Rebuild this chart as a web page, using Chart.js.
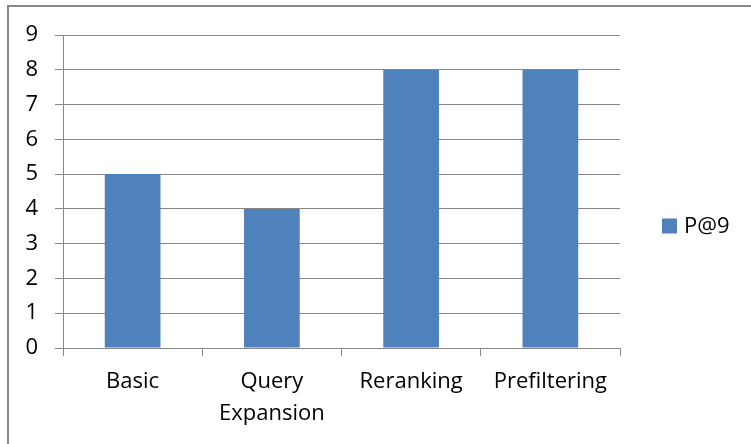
<!DOCTYPE html>
<html>
<head>
<meta charset="utf-8">
<script src="https://cdn.jsdelivr.net/npm/chart.js@4/dist/chart.umd.min.js"></script>
<style>
  html, body { margin: 0; padding: 0; background: #ffffff; }
  #wrap { position: relative; width: 751px; height: 444px; overflow: hidden; }
  #frame { position: absolute; left: 7px; top: 5px; right: -10px; bottom: -10px;
           border-left: 2px solid #878787; border-top: 2px solid #878787; pointer-events: none; }
  canvas { position: absolute; left: 0; top: 0; }
</style>
</head>
<body>
<div id="wrap">
  <canvas id="c" width="751" height="444"></canvas>
  <div id="frame"></div>
</div>
<script>
const categories = ["Basic", ["Query", "Expansion"], "Reranking", "Prefiltering"];
const seriesName = "P@9";
const seriesValues = [5, 4, 8, 8];
const yTicks = [0, 1, 2, 3, 4, 5, 6, 7, 8, 9];

const FONT = "'Open Sans', 'Noto Sans', sans-serif";
const GRID = "#878787";
const BAR = "#4F81BD";

const sideLegend = {
  id: "sideLegend",
  afterDraw(chart) {
    const ctx = chart.ctx;
    const ds = chart.data.datasets[0];
    const area = chart.chartArea;
    const x = area.right + 42;
    const yc = chart.height / 2 + 4;
    ctx.save();
    ctx.fillStyle = ds.backgroundColor;
    ctx.fillRect(x, yc - 7.5, 15, 15);
    ctx.fillStyle = "#000000";
    ctx.font = "22px " + FONT;
    ctx.textBaseline = "middle";
    ctx.textAlign = "left";
    ctx.fillText(ds.label, x + 22, yc + 1);
    ctx.restore();
  }
};

new Chart(document.getElementById("c"), {
  type: "bar",
  data: {
    labels: categories,
    datasets: [{
      label: seriesName,
      data: seriesValues,
      backgroundColor: BAR,
      borderWidth: 0,
      barPercentage: 0.4,
      categoryPercentage: 1.0
    }]
  },
  options: {
    responsive: false,
    animation: false,
    devicePixelRatio: 1,
    layout: { padding: { left: 0, top: 35, right: 131, bottom: 0 } },
    plugins: {
      legend: { display: false },
      tooltip: { enabled: false }
    },
    scales: {
      x: {
        offset: true,
        grid: { offset: true, drawOnChartArea: false, drawTicks: true, tickLength: 8, color: GRID, lineWidth: 1 },
        border: { display: true, color: GRID, width: 1 },
        ticks: { color: "#000000", font: { family: FONT, size: 22, lineHeight: 1.45 }, padding: 10, maxRotation: 0, autoSkip: false },
        afterFit(s) { s.height = 96; }
      },
      y: {
        min: 0, max: 9,
        afterBuildTicks(s) { s.ticks = yTicks.map(v => ({ value: v })); },
        grid: { color: GRID, lineWidth: 1, tickLength: 8, drawTicks: true },
        border: { display: true, color: GRID, width: 1 },
        ticks: { color: "#000000", font: { family: FONT, size: 22 }, padding: 17 },
        afterFit(s) { s.width = 63; }
      }
    }
  },
  plugins: [sideLegend]
});
</script>
</body>
</html>
